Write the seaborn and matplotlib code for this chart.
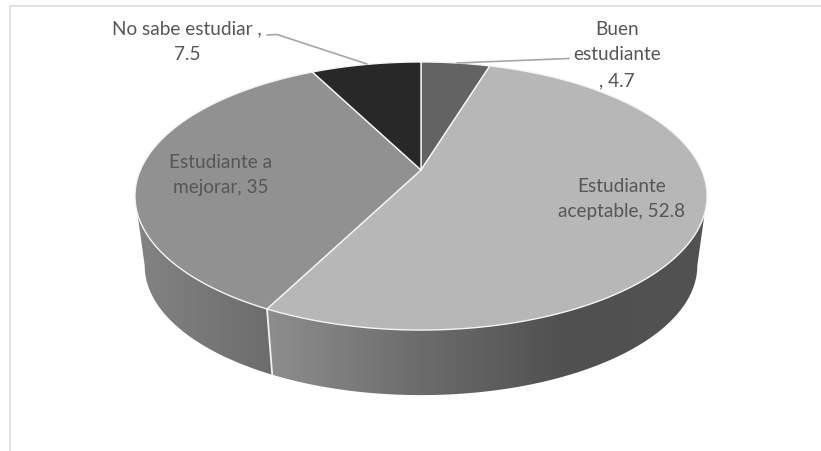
import numpy as np
import seaborn as sns
import matplotlib
matplotlib.use("Agg")
import matplotlib.pyplot as plt
from matplotlib.colors import LinearSegmentedColormap
from matplotlib.patches import Polygon

categories = ["Buen estudiante", "Estudiante aceptable", "Estudiante a mejorar", "No sabe estudiar"]
values = [4.7, 52.8, 35, 7.5]
top_colors = ["#636363", "#b7b7b7", "#919191", "#282828"]
label_texts = ["Buen\nestudiante\n, 4.7", "Estudiante\naceptable, 52.8",
               "Estudiante a\nmejorar, 35", "No sabe estudiar ,\n7.5"]
label_xy = [(617, 55), (622, 199), (221, 175), (187, 42)]

sns.set_theme(style="white")
plt.rcParams["font.family"] = ["Lato", "DejaVu Sans"]

fig = plt.figure(figsize=(8.21, 4.51), dpi=100)
ax = fig.add_axes([0, 0, 1, 1])

CX, VY, A, B, K = 421.0, 170.0, 280.6, 129.0, 0.194
DROP, SHRINK = 70.5, 0.966


def project(theta, level=0):
    """Perspective view of the unit disc; theta clockwise from the top, in radians."""
    u, v = np.sin(theta), np.cos(theta)
    w = 1 + K * v
    x, y = A * u / w, VY - B * v / w
    if level:
        x, y = x * SHRINK, VY + DROP + (y - VY) * SHRINK
    return x + CX, y


def side_map(stops):
    return LinearSegmentedColormap.from_list("side", stops)


edges = np.cumsum([0] + values) / sum(values) * 2 * np.pi
tangent_r = np.arccos(-K)
tangent_l = 2 * np.pi - tangent_r
side_styles = {
    1: ([(0.0, "#8e8e8e"), (0.35, "#6c6c6c"), (0.68, "#505050"), (1.0, "#525252")], 266, 706),
    2: ([(0.0, "#838383"), (1.0, "#6c6c6c")], 137, 273),
}
grad = np.linspace(0, 1, 256)[None, :]

# Side wall of the disc, only the front-facing part of each slice shows
for i, (stops, x0, x1) in side_styles.items():
    t = np.linspace(max(edges[i], tangent_r), min(edges[i + 1], tangent_l), 300)
    xt, yt = project(t)
    xb, yb = project(t[::-1], 1)
    poly = Polygon(np.column_stack([np.r_[xt, xb], np.r_[yt, yb]]), closed=True,
                   fc="none", ec="none", transform=ax.transData)
    ax.add_patch(poly)
    im = ax.imshow(grad, extent=(x0, x1, 451, 0), aspect="auto", cmap=side_map(stops),
                   interpolation="bilinear", zorder=1)
    im.set_clip_path(poly)

# White seam on the front wall
seam = edges[2]
sx0, sy0 = project(seam)
sx1, sy1 = project(seam, 1)
ax.plot([sx0, sx1], [sy0, sy1], color="#f2f2f2", lw=1.3, zorder=2)

# Top face
for i, col in enumerate(top_colors):
    t = np.linspace(edges[i], edges[i + 1], 300)
    xt, yt = project(t)
    ax.fill(np.r_[CX, xt], np.r_[VY, yt], fc=col, ec="#f4f4f4", lw=1.0,
            joinstyle="round", zorder=3)

# Leader lines
ax.plot([267, 277, 367], [35, 34.5, 64], color="#a6a6a6", lw=1.2, zorder=4)
ax.plot([569, 457], [58.5, 63], color="#a6a6a6", lw=1.2, zorder=4)

# Chart frame
ax.plot([10, 10, 821], [451, 5.5, 5.5], color="#dcdcdc", lw=1.2, zorder=0)

for txt, (x, y) in zip(label_texts, label_xy):
    ax.text(x, y, txt, ha="center", va="center", fontsize=13.7, color="#565656",
            linespacing=1.6, zorder=5)

ax.set_xlim(0, 821)
ax.set_ylim(451, 0)
ax.set_axis_off()
fig.savefig("out.png", dpi=100, facecolor="white")
